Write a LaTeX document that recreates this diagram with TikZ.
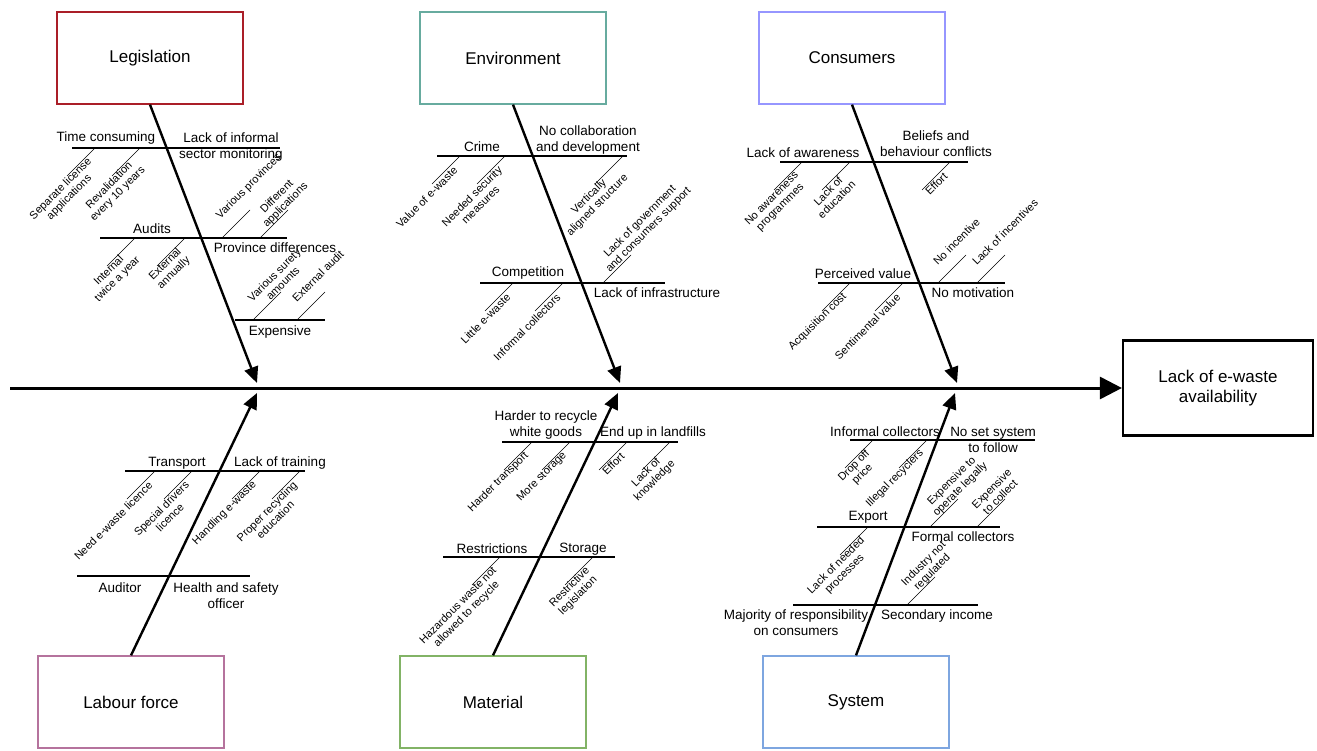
\documentclass[tikz,border=0pt]{standalone}
\usepackage{fontspec}
\setmainfont{Liberation Sans}
\usetikzlibrary{arrows.meta}

\definecolor{legred}{RGB}{170,30,40}
\definecolor{envteal}{RGB}{103,171,159}
\definecolor{conviolet}{RGB}{150,150,255}
\definecolor{labmauve}{RGB}{181,115,157}
\definecolor{matgreen}{RGB}{130,179,102}
\definecolor{sysblue}{RGB}{126,166,224}

% thin sub-cause line with its rotated text, hanging down-left from a rib
\newcommand{\dcause}[3][south east]{%
  \draw[twig] (#2) -- ++(-28,28);
  \node[cause,anchor=#1,shift={(-11,11)}] at (#2) {#3};}
% same, rising up-right from a rib
\newcommand{\ucause}[3][south west]{%
  \draw[twig] (#2) -- ++(28,-28);
  \node[cause,anchor=#1,shift={(11,-11)}] at (#2) {#3};}

\begin{document}
\begin{tikzpicture}[x=1pt,y=-1pt,
    cat/.style={draw=#1,fill=white,line width=1.3pt,minimum width=186pt,minimum height=92pt,
      font=\fontsize{17}{20}\selectfont},
    bone/.style={line width=2.4pt,-{Triangle[length=16pt,width=14pt]}},
    rib/.style={line width=2.2pt},
    twig/.style={line width=0.6pt},
    lbl/.style={font=\fontsize{13.5}{16}\selectfont,inner sep=1pt,align=center},
    cause/.style={rotate=45,align=center,inner sep=1pt,font=\fontsize{11}{12}\selectfont}]
    \useasboundingbox (0,0) rectangle (1317,751);

    % effect and spine
    \node[draw,line width=2.2pt,minimum width=190pt,minimum height=95pt,align=center,
      font=\fontsize{17}{20}\selectfont] (effect) at (1218,388) {Lack of e-waste\\availability};
    \coordinate (tail) at (10,388);
    \draw[line width=3pt,-{Triangle[length=22pt,width=22pt]}] (tail) -- (effect.west);

    % categories
    \node[cat=legred] (leg) at (150,58) {Legislation};
    \node[cat=envteal] (env) at (513,58) {Environment};
    \node[cat=conviolet] (con) at (852,58) {Consumers};
    \node[cat=labmauve] (lab) at (131,702) {Labour force};
    \node[cat=matgreen] (mat) at (493,702) {Material};
    \node[cat=sysblue] (sys) at (856,702) {System};

    \coordinate (legtip) at (257,383);
    \coordinate (envtip) at (620,383);
    \coordinate (contip) at (957,383);
    \coordinate (labtip) at (257,393);
    \coordinate (mattip) at (618,393);
    \coordinate (systip) at (955,393);

    \draw[bone] (leg.south) -- (legtip);
    \draw[bone] (env.south) -- (envtip);
    \draw[bone] (con.south) -- (contip);
    \draw[bone] (lab.north) -- (labtip);
    \draw[bone] (mat.north) -- (mattip);
    \draw[bone] (sys.north) -- (systip);

    % Legislation
    \draw[rib] (72,148) -- (280,148);
    \node[lbl] (timecons) at (106,138) {Time consuming};
    \node[lbl] (informal) at (231,147) {Lack of informal\\sector monitoring};
    \dcause[east]{95,148}{Separate license\\applications}
    \dcause[east]{140,148}{Revalidation\\every 10 years}
    \draw[rib] (100,238) -- (287,238);
    \node[lbl] (audits) at (152,229) {Audits};
    \node[lbl] (province) at (275,248) {Province differences};
    \dcause[east]{135,238}{Internal\\twice a year}
    \dcause[east]{185,238}{External\\annually}
    \ucause{222,238}{Various provinces}
    \ucause[west]{260,238}{Different\\applications}
    \draw[rib] (235,320) -- (325,320);
    \node[lbl] (expensive) at (280,332) {Expensive};
    \ucause[west]{253,320}{Various surety\\amounts}
    \ucause{297,320}{External audit}

    % Environment
    \draw[rib] (437,156) -- (627,156);
    \node[lbl] (crime) at (482,147) {Crime};
    \node[lbl] (collab) at (588,140) {No collaboration\\and development};
    \dcause{460,156}{Value of e-waste}
    \dcause[east]{505,156}{Needed security\\measures}
    \dcause[east]{623,156}{Vertically\\aligned structure}
    \draw[rib] (480,283) -- (665,283);
    \node[lbl] (competition) at (528,273) {Competition};
    \node[lbl] (infra) at (657,293) {Lack of infrastructure};
    \ucause[west]{603,283}{Lack of government\\and consumers support}
    \dcause{513,283}{Little e-waste}
    \dcause{563,283}{Informal collectors}

    % Consumers
    \draw[rib] (780,162) -- (968,162);
    \node[lbl] (awareness) at (803,153) {Lack of awareness};
    \node[lbl] (beliefs) at (936,144) {Beliefs and\\behaviour conflicts};
    \dcause[east]{802,162}{No awareness\\programmes}
    \dcause[east]{850,162}{Lack of\\education}
    \dcause{950,162}{Effort}
    \draw[rib] (818,283) -- (1005,283);
    \node[lbl] (perceived) at (863,274) {Perceived value};
    \node[lbl] (motivation) at (973,293) {No motivation};
    \ucause{938,283}{No incentive}
    \ucause{977,283}{Lack of incentives}
    \dcause{850,283}{Acquisition cost}
    \dcause{903,283}{Sentimental value}

    % Labour force
    \draw[rib] (125,471) -- (305,471);
    \node[lbl] (transport) at (177,463) {Transport};
    \node[lbl] (training) at (280,463) {Lack of training};
    \dcause{155,471}{Need e-waste licence}
    \dcause[east]{192,471}{Special drivers\\licence}
    \dcause{260,471}{Handling e-waste}
    \dcause[east]{300,471}{Proper recycling\\education}
    \draw[rib] (77,576) -- (250,576);
    \node[lbl] (auditor) at (120,588) {Auditor};
    \node[lbl] (safety) at (226,596) {Health and safety\\officer};

    % Material
    \draw[rib] (502,442) -- (678,442);
    \node[lbl] (harder) at (546,425) {Harder to recycle\\white goods};
    \node[lbl] (landfill) at (653,433) {End up in landfills};
    \dcause{532,442}{Harder transport}
    \dcause{570,442}{More storage}
    \dcause{627,442}{Effort}
    \dcause[east]{670,442}{Lack of\\knowledge}
    \draw[rib] (443,557) -- (615,557);
    \node[lbl] (restrict) at (492,549) {Restrictions};
    \node[lbl] (storage) at (583,549) {Storage};
    \dcause[east]{500,557}{Hazardous waste not\\allowed to recycle}
    \dcause[east]{593,557}{Restrictive\\legislation}

    % System
    \draw[rib] (850,440) -- (1035,440);
    \node[lbl] (infcoll) at (885,432) {Informal collectors};
    \node[lbl] (noset) at (993,440) {No set system\\to follow};
    \dcause[east]{873,440}{Drop off\\price}
    \dcause{927,440}{Illegal recyclers}
    \draw[rib] (817,527) -- (1000,527);
    \node[lbl] (export) at (868,517) {Export};
    \node[lbl] (formal) at (963,537) {Formal collectors};
    \ucause[west]{930,527}{Expensive to\\operate legally}
    \ucause[west]{977,527}{Expensive\\to collect}
    \dcause[east]{868,527}{Lack of needed\\processes}
    \draw[rib] (793,605) -- (978,605);
    \node[lbl] (majority) at (796,623) {Majority of responsibility\\on consumers};
    \node[lbl] (secondary) at (937,616) {Secondary income};
    \ucause[west]{907,605}{Industry not\\regulated}
\end{tikzpicture}
\end{document}
